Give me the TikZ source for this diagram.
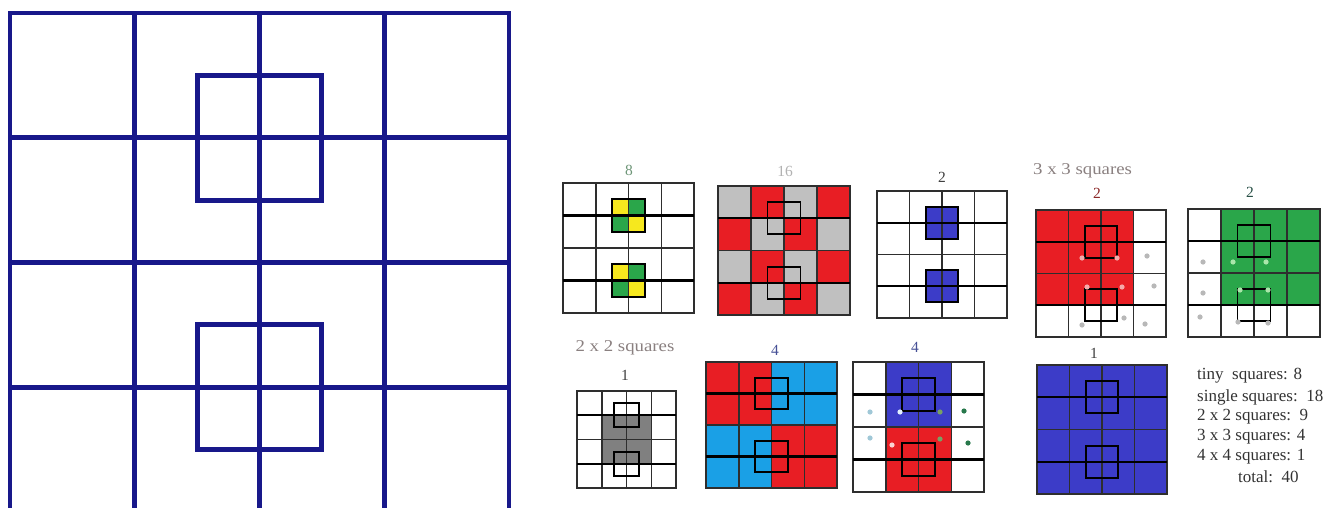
\documentclass[tikz,border=0pt]{standalone}
\usepackage{fontspec}
\setmainfont{Liberation Serif}
\newfontfamily\widefont[FakeStretch=1.14]{Liberation Serif}
\definecolor{navy}{RGB}{24,24,138}
\definecolor{cred}{RGB}{232,30,36}
\definecolor{cgray}{RGB}{192,192,192}
\definecolor{cblue}{RGB}{60,60,200}
\definecolor{clblue}{RGB}{26,160,230}
\definecolor{cgreen}{RGB}{42,166,74}
\definecolor{cyellow}{RGB}{246,232,30}
\definecolor{cdgray}{RGB}{128,128,128}
\definecolor{labgray}{RGB}{138,128,128}
\definecolor{lab8}{RGB}{110,150,120}
\definecolor{labred}{RGB}{140,40,40}
\definecolor{labgreen}{RGB}{40,80,70}
\definecolor{labblue}{RGB}{70,80,150}
\definecolor{dpink}{RGB}{245,170,170}
\definecolor{dlgreen}{RGB}{170,230,170}
\definecolor{dlblue}{RGB}{160,200,215}
\definecolor{dwhite}{RGB}{225,240,255}
\definecolor{dwpink}{RGB}{250,210,210}
\definecolor{dgreen}{RGB}{120,160,100}
\definecolor{ddgreen}{RGB}{40,120,75}
\newcommand\mygridlines{%
  \draw[gl] (0,0) rectangle (4,4);
  \foreach \i in {1,2,3} \draw[gl] (\i,0) -- (\i,4);
  \draw[gl] (0,2) -- (4,2);
  \draw[hl] (0,1) -- (4,1) (0,3) -- (4,3);
  \draw[sq] (1.5,0.5) rectangle (2.5,1.5) (1.5,2.5) rectangle (2.5,3.5);
}
\begin{document}
\begin{tikzpicture}[x=1pt,y=-1pt,
  gl/.style={draw=black!82,line width=1.5pt},
  hl/.style={draw=black,line width=2.1pt},
  sq/.style={draw=black,line width=1.9pt},
  big/.style={draw=navy,line width=4.8pt,line cap=rect},
  lab/.style={font=\fontsize{15.5}{15.5}\selectfont,inner sep=0pt},
  ttl/.style={font=\widefont\fontsize{16.5}{16.5}\selectfont,inner sep=0pt,text=labgray},
  txt/.style={font=\fontsize{17}{18}\selectfont,inner sep=0pt,anchor=west,text=black!80},
  dot/.style={radius=2.6pt}]
\useasboundingbox (0,0) rectangle (1344,508);
\fill[white] (0,0) rectangle (1344,508);
\clip (0,0) rectangle (1344,508);

% big grid
\begin{scope}[shift={(10,13)},x=124.75pt,y=-124.75pt]
  \draw[big] (0,0) rectangle (4,4);
  \foreach \i in {1,2,3} \draw[big] (\i,0) -- (\i,4) (0,\i) -- (4,\i);
  \draw[big,line cap=butt] (1.5,0.5) rectangle (2.5,1.5) (1.5,2.5) rectangle (2.5,3.5);
\end{scope}

% A: tiny squares
\node[lab,text=lab8] (la) at (629,170) {8};
\begin{scope}[shift={(563,183)},x=32.75pt,y=-32.5pt]
  \foreach \yy in {0.5,2.5}{
    \fill[cyellow] (1.5,\yy) rectangle (2,\yy+0.5);
    \fill[cgreen] (2,\yy) rectangle (2.5,\yy+0.5);
    \fill[cgreen] (1.5,\yy+0.5) rectangle (2,\yy+1);
    \fill[cyellow] (2,\yy+0.5) rectangle (2.5,\yy+1);
  }
  \mygridlines
\end{scope}

% B: 16 single squares
\node[lab,text=black!30] (lb) at (785,171) {16};
\begin{scope}[shift={(718,186)},x=33pt,y=-32.25pt]
  \foreach \r in {0,1,2,3}
    \foreach \c in {0,1,2,3}{
      \pgfmathtruncatemacro\myparity{mod(\r+\c,2)}
      \ifnum\myparity=0 \fill[cgray] (\c,\r) rectangle (\c+1,\r+1);
      \else \fill[cred] (\c,\r) rectangle (\c+1,\r+1); \fi
    }
  \mygridlines
\end{scope}

% C: 2 blue
\node[lab,text=black!75] (lc) at (942,177) {2};
\begin{scope}[shift={(877,191)},x=32.5pt,y=-31.75pt]
  \fill[cblue] (1.5,0.5) rectangle (2.5,1.5) (1.5,2.5) rectangle (2.5,3.5);
  \mygridlines
\end{scope}

% D: 3x3 red
\node[ttl,anchor=west] (l33) at (1033,171) {3 x 3 squares};
\node[lab,text=labred] (ld) at (1097,193) {2};
\begin{scope}[shift={(1036,210)},x=32.5pt,y=-31.75pt]
  \fill[cred] (0,0) rectangle (3,3);
  \mygridlines
\end{scope}
\foreach \p in {(1082,258),(1117,258),(1087,287),(1122,287)}
  \fill[dpink] \p circle[dot];
\foreach \p in {(1147,256),(1154,286),(1082,325),(1124,318),(1145,324)}
  \fill[black!28] \p circle[dot];

% E: 3x3 green
\node[lab,text=labgreen] (le) at (1250,192) {2};
\begin{scope}[shift={(1188,209)},x=33pt,y=-32pt]
  \fill[cgreen] (1,0) rectangle (4,3);
  \mygridlines
\end{scope}
\foreach \p in {(1233,262),(1266,262),(1240,290),(1268,290)}
  \fill[dlgreen] \p circle[dot];
\foreach \p in {(1203,262),(1203,293),(1200,317),(1238,322),(1268,323)}
  \fill[black!28] \p circle[dot];

% F: 2x2 gray
\node[ttl] (l22) at (625,348) {2 x 2 squares};
\node[lab,text=black!75] (lf) at (625,375) {1};
\begin{scope}[shift={(577,391)},x=24.75pt,y=-24.25pt]
  \fill[cdgray] (1,1) rectangle (3,3);
  \mygridlines
\end{scope}

% G: red/blue quadrants
\node[lab,text=labblue] (lg) at (775,350) {4};
\begin{scope}[shift={(706,362)},x=32.75pt,y=-31.5pt]
  \fill[cred] (0,0) rectangle (2,2) (2,2) rectangle (4,4);
  \fill[clblue] (2,0) rectangle (4,2) (0,2) rectangle (2,4);
  \mygridlines
\end{scope}

% H: blue/red middle
\node[lab,text=labblue] (lh) at (915,347) {4};
\begin{scope}[shift={(853,362)},x=32.75pt,y=-32.5pt]
  \fill[cblue] (1,0) rectangle (3,2);
  \fill[cred] (1,2) rectangle (3,4);
  \mygridlines
\end{scope}
\fill[dlblue] (870,412) circle[dot] (870,438) circle[dot];
\fill[dwhite] (900,412) circle[dot];
\fill[dwpink] (892,445) circle[dot];
\fill[dgreen] (940,412) circle[dot] (940,439) circle[dot];
\fill[ddgreen] (964,411) circle[dot] (968,443) circle[dot];

% I: 4x4 blue
\node[lab,text=black!75] (li) at (1094,353) {1};
\begin{scope}[shift={(1037,365)},x=32.5pt,y=-32.25pt]
  \fill[cblue] (0,0) rectangle (4,4);
  \mygridlines
\end{scope}

% summary
\node[txt] (t1) at (1197,376) {tiny\ \ squares: 8};
\node[txt] (t2) at (1197,397) {single squares:\ \ 18};
\node[txt] (t3) at (1197,417) {2 x 2 squares:\ \ 9};
\node[txt] (t4) at (1197,437) {3 x 3 squares: 4};
\node[txt] (t5) at (1197,457) {4 x 4 squares: 1};
\node[txt] (t6) at (1238,477) {total:\ \ 40};
\end{tikzpicture}
\end{document}
